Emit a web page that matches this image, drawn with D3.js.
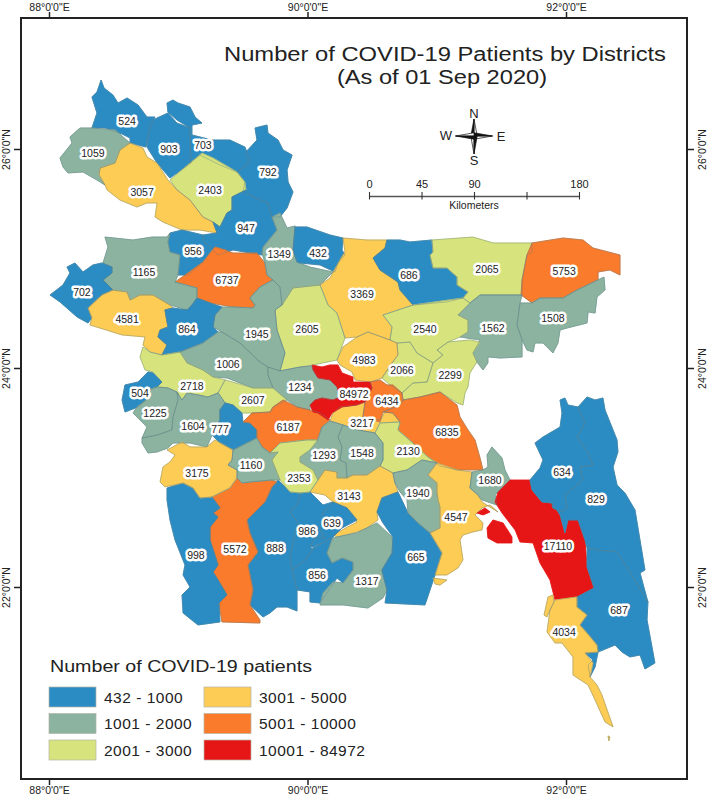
<!DOCTYPE html>
<html><head><meta charset="utf-8">
<script src="https://cdn.jsdelivr.net/npm/d3@7"></script>
<style>html,body{margin:0;padding:0;background:#fff}svg{display:block}text{font-family:"Liberation Sans",Arial,sans-serif;fill:#222}</style>
</head><body><svg id="chart" width="708" height="797"></svg>
<script>
// ---- Map data: district rings as [longitude, latitude] ----
const r524=[[88.332,26.475],[88.371,26.521],[88.403,26.630],[88.426,26.557],[88.495,26.493],[88.534,26.420],[88.604,26.466],[88.689,26.402],[88.758,26.292],[88.820,26.292],[88.781,26.192],[88.750,26.018],[88.627,26.055],[88.627,26.100],[88.565,26.137],[88.433,26.192],[88.332,26.192],[88.371,26.329]];
const r1059=[[88.162,26.110],[88.240,26.192],[88.332,26.192],[88.511,26.174],[88.627,26.055],[88.549,25.991],[88.511,25.872],[88.395,25.826],[88.387,25.763],[88.433,25.671],[88.371,25.717],[88.263,25.790],[88.147,25.781],[88.108,25.836],[88.085,25.918],[88.147,26.009],[88.178,26.055]];
const r903=[[88.781,26.247],[88.836,26.283],[88.920,26.329],[88.990,26.237],[89.091,26.192],[89.099,25.872],[88.936,25.735],[88.836,25.872],[88.758,26.018]];
const r703=[[88.913,26.420],[88.959,26.447],[88.998,26.420],[89.091,26.384],[89.130,26.292],[89.184,26.237],[89.106,26.219],[89.106,26.128],[89.261,26.082],[89.400,26.082],[89.516,26.018],[89.555,25.900],[89.540,25.854],[89.455,25.790],[89.323,25.854],[89.168,25.945],[89.091,25.872],[89.091,26.192],[88.990,26.265],[88.920,26.338]];
const r792=[[89.594,26.192],[89.687,26.219],[89.694,26.146],[89.772,26.082],[89.811,25.991],[89.881,25.945],[89.842,25.808],[89.850,25.699],[89.888,25.607],[89.842,25.461],[89.787,25.379],[89.725,25.379],[89.694,25.507],[89.578,25.562],[89.501,25.607],[89.516,25.699],[89.455,25.790],[89.540,25.872],[89.516,25.963],[89.609,26.082]];
const r2403=[[89.184,25.963],[89.269,25.918],[89.455,25.790],[89.516,25.699],[89.524,25.626],[89.416,25.562],[89.416,25.443],[89.377,25.416],[89.323,25.288],[89.269,25.333],[89.191,25.379],[89.091,25.534],[88.990,25.626],[88.936,25.717],[89.091,25.872]];
const r3057=[[88.627,26.055],[88.727,26.009],[88.758,25.927],[88.836,25.872],[88.920,25.717],[88.990,25.626],[89.091,25.534],[89.191,25.379],[89.269,25.333],[89.300,25.233],[89.168,25.260],[89.029,25.260],[88.882,25.333],[88.820,25.379],[88.836,25.507],[88.758,25.507],[88.681,25.470],[88.549,25.534],[88.449,25.626],[88.433,25.671],[88.387,25.763],[88.395,25.826],[88.511,25.872],[88.549,25.991]];
const r947=[[89.524,25.626],[89.578,25.562],[89.694,25.507],[89.725,25.379],[89.764,25.260],[89.656,25.105],[89.648,25.032],[89.424,25.078],[89.308,25.032],[89.207,25.142],[89.191,25.215],[89.300,25.233],[89.269,25.333],[89.323,25.288],[89.377,25.416],[89.416,25.443],[89.416,25.562]];
const r956=[[88.936,25.233],[89.029,25.260],[89.191,25.215],[89.207,25.142],[89.269,25.096],[89.191,24.968],[89.075,24.849],[88.998,24.849],[89.014,25.032],[88.936,25.059],[88.920,25.151]];
const r6737=[[89.284,25.105],[89.362,25.078],[89.424,25.050],[89.609,25.050],[89.671,24.959],[89.687,24.849],[89.733,24.804],[89.632,24.740],[89.555,24.639],[89.594,24.575],[89.578,24.548],[89.424,24.557],[89.246,24.594],[89.145,24.639],[89.145,24.731],[88.975,24.785],[89.075,24.868],[89.191,24.968]];
const r1349=[[89.725,25.379],[89.787,25.416],[89.842,25.279],[89.904,25.297],[89.888,25.078],[89.919,24.968],[90.019,24.922],[90.197,24.877],[90.097,24.758],[89.888,24.731],[89.803,24.575],[89.787,24.740],[89.733,24.804],[89.687,24.849],[89.671,24.959],[89.648,25.050],[89.656,25.105],[89.764,25.260]];
const r432=[[89.904,25.288],[89.996,25.288],[90.174,25.215],[90.275,25.187],[90.267,25.078],[90.290,25.032],[90.236,24.959],[90.213,24.877],[90.097,24.941],[89.942,24.959],[89.919,24.968],[89.888,25.078]];
const r3369=[[90.275,25.187],[90.460,25.169],[90.615,25.169],[90.600,25.096],[90.507,25.005],[90.561,24.895],[90.700,24.785],[90.716,24.712],[90.816,24.575],[90.584,24.484],[90.654,24.375],[90.638,24.256],[90.468,24.329],[90.383,24.283],[90.290,24.274],[90.228,24.502],[90.159,24.575],[90.097,24.758],[90.174,24.822],[90.251,24.986],[90.290,25.059]];
const r686=[[90.615,25.169],[90.716,25.169],[90.793,25.151],[90.963,25.169],[90.971,25.059],[90.948,25.032],[90.971,24.913],[91.079,24.913],[91.157,24.831],[91.157,24.758],[91.242,24.694],[91.203,24.639],[91.079,24.603],[90.816,24.575],[90.716,24.712],[90.700,24.785],[90.561,24.895],[90.507,25.005],[90.600,25.096]];
const r2065=[[90.963,25.169],[91.280,25.196],[91.435,25.142],[91.590,25.142],[91.737,25.142],[91.737,25.059],[91.698,25.032],[91.660,24.804],[91.660,24.667],[91.335,24.667],[91.257,24.594],[91.203,24.639],[91.242,24.694],[91.157,24.758],[91.157,24.831],[91.079,24.913],[90.971,24.913],[90.948,25.032],[90.971,25.059]];
const r5753=[[91.737,25.142],[91.977,25.187],[92.132,25.169],[92.209,25.096],[92.418,25.032],[92.418,24.849],[92.340,24.895],[92.248,24.877],[92.248,24.804],[92.085,24.712],[91.977,24.639],[91.799,24.639],[91.737,24.594],[91.652,24.667],[91.660,24.804],[91.698,25.032]];
const r1508=[[92.248,24.804],[92.294,24.831],[92.302,24.712],[92.240,24.649],[92.225,24.502],[92.171,24.512],[92.163,24.411],[92.008,24.365],[91.954,24.347],[91.938,24.228],[91.899,24.137],[91.822,24.228],[91.760,24.228],[91.745,24.146],[91.698,24.164],[91.660,24.256],[91.621,24.393],[91.644,24.594],[91.737,24.594],[91.799,24.639],[91.977,24.639],[92.085,24.712]];
const r1562=[[91.335,24.667],[91.660,24.667],[91.644,24.594],[91.621,24.393],[91.660,24.256],[91.660,24.101],[91.489,24.091],[91.396,24.101],[91.396,24.046],[91.358,23.982],[91.311,24.055],[91.280,24.137],[91.335,24.256],[91.180,24.283],[91.242,24.329],[91.242,24.438],[91.164,24.484],[91.257,24.594]];
const r2540=[[90.816,24.575],[91.203,24.639],[91.257,24.594],[91.164,24.484],[91.242,24.438],[91.242,24.329],[91.180,24.283],[91.087,24.237],[91.002,24.164],[91.048,24.119],[90.971,24.046],[90.847,24.137],[90.793,24.237],[90.692,24.228],[90.638,24.256],[90.654,24.375],[90.584,24.484]];
const r2299=[[91.087,24.237],[91.257,24.256],[91.335,24.237],[91.280,24.137],[91.311,24.055],[91.257,23.955],[91.242,23.827],[91.219,23.772],[91.203,23.662],[91.157,23.681],[91.025,23.781],[90.870,23.735],[90.739,23.708],[90.731,23.772],[90.816,23.863],[90.925,23.872],[90.971,24.046],[91.048,24.119],[91.002,24.164]];
const r2066=[[90.692,24.228],[90.793,24.237],[90.847,24.137],[90.971,24.046],[90.925,23.872],[90.816,23.863],[90.731,23.772],[90.638,23.845],[90.576,23.909],[90.654,24.046],[90.700,24.119]];
const r4983=[[90.468,24.329],[90.638,24.256],[90.692,24.228],[90.700,24.119],[90.654,24.046],[90.576,23.909],[90.484,23.872],[90.368,23.891],[90.344,23.964],[90.251,24.028],[90.228,24.073],[90.275,24.192],[90.383,24.283]];
const r2605=[[89.803,24.575],[89.888,24.731],[90.097,24.758],[90.159,24.575],[90.228,24.502],[90.290,24.274],[90.228,24.073],[90.043,24.028],[89.942,24.009],[89.787,23.973],[89.826,24.137],[89.764,24.347],[89.749,24.530]];
const r1945=[[89.555,24.639],[89.632,24.740],[89.733,24.804],[89.787,24.740],[89.803,24.575],[89.749,24.530],[89.764,24.347],[89.826,24.137],[89.787,23.973],[89.694,24.009],[89.632,24.055],[89.478,24.228],[89.338,24.329],[89.269,24.375],[89.284,24.484],[89.338,24.557],[89.424,24.557],[89.578,24.548],[89.594,24.575]];
const r1165=[[88.433,25.196],[88.650,25.169],[88.797,25.196],[88.913,25.196],[88.936,25.233],[88.920,25.151],[88.936,25.059],[89.014,25.032],[88.998,24.849],[88.975,24.785],[89.145,24.731],[89.145,24.639],[89.106,24.575],[89.068,24.530],[88.936,24.575],[88.804,24.667],[88.704,24.667],[88.627,24.621],[88.604,24.694],[88.495,24.712],[88.418,24.804],[88.487,24.868],[88.487,24.922],[88.418,24.959],[88.456,25.105]];
const r702=[[88.139,24.922],[88.201,24.959],[88.263,24.877],[88.340,24.941],[88.410,24.959],[88.487,24.922],[88.487,24.868],[88.418,24.804],[88.495,24.712],[88.410,24.667],[88.302,24.548],[88.332,24.457],[88.302,24.411],[88.217,24.466],[88.085,24.603],[88.008,24.667],[88.108,24.758],[88.162,24.868]];
const r4581=[[88.495,24.712],[88.604,24.694],[88.627,24.621],[88.704,24.667],[88.804,24.667],[88.936,24.575],[88.959,24.548],[88.897,24.530],[88.920,24.375],[88.859,24.347],[88.843,24.283],[88.913,24.210],[88.874,24.119],[88.781,24.146],[88.727,24.210],[88.743,24.283],[88.565,24.302],[88.317,24.393],[88.332,24.457],[88.302,24.548],[88.410,24.667]];
const r864=[[89.145,24.639],[89.246,24.594],[89.338,24.557],[89.284,24.484],[89.269,24.375],[89.308,24.329],[89.191,24.228],[89.014,24.146],[88.874,24.119],[88.913,24.210],[88.843,24.283],[88.859,24.347],[88.920,24.375],[88.897,24.530],[88.959,24.548],[89.068,24.530],[89.106,24.575]];
const r1006=[[89.308,24.329],[89.338,24.329],[89.478,24.228],[89.632,24.055],[89.694,24.009],[89.694,23.936],[89.733,23.818],[89.578,23.818],[89.377,23.909],[89.269,23.918],[89.191,23.982],[89.068,24.046],[89.014,24.146],[89.191,24.228]];
const r1234=[[89.694,24.009],[89.787,23.973],[89.942,24.009],[90.035,24.018],[90.043,23.982],[90.081,23.909],[90.174,23.891],[90.228,23.827],[90.251,23.735],[90.197,23.708],[90.112,23.726],[90.058,23.708],[90.019,23.662],[90.019,23.617],[89.919,23.644],[89.842,23.708],[89.733,23.818],[89.694,23.936]];
const r2718=[[88.727,24.192],[88.781,24.146],[88.874,24.119],[89.014,24.146],[89.068,24.046],[89.191,23.982],[89.269,23.918],[89.362,23.891],[89.308,23.772],[89.230,23.735],[89.153,23.754],[89.068,23.772],[89.029,23.708],[88.990,23.781],[88.920,23.818],[88.836,23.827],[88.874,23.872],[88.804,23.964],[88.743,23.982],[88.704,24.101]];
const r2607=[[89.362,23.891],[89.578,23.818],[89.733,23.818],[89.842,23.708],[89.733,23.644],[89.710,23.598],[89.570,23.589],[89.493,23.589],[89.424,23.662],[89.362,23.681],[89.323,23.754],[89.308,23.772]];
const r504=[[88.727,23.918],[88.766,23.964],[88.804,23.955],[88.874,23.872],[88.836,23.827],[88.766,23.799],[88.781,23.735],[88.689,23.644],[88.588,23.598],[88.565,23.708],[88.588,23.845],[88.689,23.872]];
const r1225=[[88.836,23.827],[88.920,23.818],[88.990,23.781],[88.998,23.708],[88.959,23.553],[88.951,23.434],[88.836,23.388],[88.766,23.370],[88.720,23.361],[88.758,23.461],[88.650,23.589],[88.681,23.644],[88.781,23.735],[88.766,23.799]];
const r1604=[[88.990,23.781],[89.029,23.708],[89.068,23.772],[89.153,23.754],[89.230,23.735],[89.308,23.772],[89.362,23.681],[89.323,23.617],[89.323,23.525],[89.261,23.388],[89.222,23.279],[89.091,23.315],[88.959,23.315],[88.920,23.269],[88.836,23.233],[88.766,23.224],[88.720,23.315],[88.720,23.361],[88.836,23.388],[88.951,23.434],[88.959,23.553],[88.998,23.708]];
const r777=[[89.362,23.681],[89.424,23.662],[89.493,23.589],[89.501,23.507],[89.555,23.498],[89.609,23.434],[89.609,23.361],[89.424,23.251],[89.323,23.315],[89.261,23.388],[89.323,23.525],[89.323,23.617]];
const r6187=[[89.501,23.507],[89.570,23.589],[89.710,23.598],[89.733,23.644],[89.811,23.708],[89.919,23.644],[90.019,23.617],[90.097,23.589],[90.174,23.525],[90.112,23.461],[90.074,23.343],[89.996,23.343],[89.787,23.315],[89.710,23.224],[89.648,23.279],[89.609,23.361],[89.609,23.434],[89.555,23.498]];
const r3217=[[90.251,23.644],[90.383,23.662],[90.445,23.690],[90.429,23.553],[90.561,23.525],[90.600,23.598],[90.661,23.589],[90.716,23.507],[90.561,23.498],[90.522,23.407],[90.391,23.434],[90.275,23.480],[90.174,23.516],[90.197,23.589]];
const r6434=[[90.484,23.872],[90.561,23.891],[90.615,23.845],[90.661,23.845],[90.731,23.772],[90.739,23.708],[90.716,23.662],[90.677,23.644],[90.584,23.598],[90.561,23.507],[90.429,23.553],[90.445,23.690],[90.499,23.818]];
const r84972=[[90.035,24.028],[90.112,24.009],[90.174,24.028],[90.236,24.028],[90.267,23.955],[90.352,23.918],[90.352,23.872],[90.484,23.872],[90.499,23.818],[90.460,23.708],[90.445,23.690],[90.383,23.662],[90.267,23.644],[90.190,23.589],[90.159,23.525],[90.081,23.589],[90.043,23.598],[90.019,23.662],[90.058,23.708],[90.112,23.726],[90.197,23.708],[90.251,23.735],[90.228,23.827],[90.174,23.891],[90.081,23.909],[90.043,23.982]];
const r6835=[[90.739,23.708],[90.870,23.735],[91.025,23.781],[91.157,23.662],[91.180,23.553],[91.242,23.434],[91.296,23.343],[91.335,23.178],[91.358,23.069],[91.157,23.069],[91.025,23.105],[90.932,23.187],[90.816,23.315],[90.716,23.416],[90.700,23.434],[90.716,23.507],[90.661,23.589],[90.584,23.598],[90.677,23.644],[90.716,23.662]];
const r2130=[[90.561,23.498],[90.716,23.507],[90.700,23.434],[90.816,23.315],[90.932,23.187],[91.002,23.133],[90.886,23.160],[90.770,23.069],[90.661,23.041],[90.561,23.105],[90.584,23.160],[90.584,23.315],[90.522,23.407]];
const r1293=[[90.174,23.516],[90.275,23.480],[90.236,23.370],[90.267,23.279],[90.251,23.160],[90.298,23.133],[90.306,22.996],[90.228,22.996],[90.228,23.050],[90.135,23.069],[90.081,22.977],[90.043,23.069],[89.942,23.142],[89.942,23.187],[90.019,23.251],[90.081,23.343],[90.112,23.461]];
const r1548=[[90.275,23.480],[90.391,23.434],[90.522,23.407],[90.584,23.315],[90.584,23.160],[90.561,23.105],[90.460,23.023],[90.352,23.023],[90.306,22.996],[90.298,23.133],[90.251,23.160],[90.267,23.279],[90.236,23.370]];
const r3143=[[90.019,22.868],[90.081,22.977],[90.135,23.069],[90.228,23.050],[90.228,22.996],[90.306,22.996],[90.352,23.023],[90.460,23.023],[90.561,23.105],[90.661,23.041],[90.677,22.950],[90.700,22.868],[90.576,22.813],[90.538,22.685],[90.545,22.612],[90.460,22.539],[90.383,22.503],[90.228,22.457],[90.197,22.475],[90.383,22.594],[90.306,22.722],[90.197,22.776],[90.135,22.840]];
const r639=[[90.197,22.776],[90.306,22.722],[90.383,22.612],[90.267,22.539],[90.190,22.448],[90.043,22.365],[90.019,22.365],[90.058,22.448],[90.135,22.448],[90.097,22.521],[90.120,22.676]];
const r986=[[89.942,22.859],[90.019,22.868],[90.120,22.749],[90.197,22.776],[90.120,22.676],[90.097,22.521],[90.135,22.448],[90.058,22.448],[90.019,22.365],[90.043,22.338],[89.981,22.247],[89.880,22.155],[89.865,22.274],[89.904,22.494],[89.927,22.585],[89.865,22.685],[89.927,22.767]];
const r856=[[90.190,22.448],[90.151,22.311],[90.190,22.219],[90.267,22.265],[90.352,22.228],[90.352,22.155],[90.275,22.037],[90.228,22.082],[90.097,21.854],[90.019,21.863],[90.019,21.955],[89.919,21.973],[89.880,22.155],[89.981,22.247],[90.043,22.356]];
const r1317=[[90.383,22.494],[90.460,22.539],[90.538,22.585],[90.654,22.457],[90.661,22.311],[90.576,22.155],[90.615,21.973],[90.584,21.900],[90.468,21.808],[90.275,21.836],[90.097,21.836],[90.120,21.945],[90.197,22.046],[90.275,22.037],[90.352,22.155],[90.352,22.228],[90.267,22.265],[90.190,22.219],[90.151,22.311],[90.197,22.448]];
const r665=[[90.700,22.868],[90.778,22.676],[90.847,22.594],[90.948,22.494],[91.041,22.311],[90.987,22.110],[90.909,21.836],[90.600,21.854],[90.615,21.973],[90.576,22.155],[90.654,22.311],[90.661,22.457],[90.584,22.585],[90.538,22.685],[90.576,22.813]];
const r1940=[[90.661,23.041],[90.770,23.069],[90.886,23.160],[91.002,23.133],[90.932,23.023],[91.002,22.950],[91.002,22.859],[91.010,22.795],[91.025,22.731],[91.025,22.539],[90.948,22.494],[90.847,22.594],[90.778,22.676],[90.770,22.795],[90.716,22.868],[90.677,22.950]];
const r4547=[[91.002,23.133],[91.157,23.069],[91.273,23.050],[91.257,22.904],[91.319,22.840],[91.350,22.776],[91.474,22.685],[91.412,22.749],[91.350,22.722],[91.296,22.658],[91.358,22.585],[91.350,22.521],[91.280,22.503],[91.203,22.475],[91.180,22.429],[91.203,22.247],[91.164,22.174],[91.079,22.110],[90.987,22.110],[91.041,22.311],[90.948,22.494],[91.025,22.539],[91.025,22.731],[91.010,22.795],[91.002,22.859],[91.002,22.950],[90.932,23.023]];
const r4547b=[[90.971,22.082],[91.079,22.064],[91.025,22.018],[90.987,22.027]];
const r1680=[[91.427,23.279],[91.505,23.178],[91.528,23.069],[91.567,22.977],[91.451,22.840],[91.466,22.749],[91.350,22.795],[91.319,22.840],[91.257,22.904],[91.273,23.050],[91.358,23.069],[91.396,23.096],[91.389,23.206]];
const r17110=[[91.567,22.977],[91.721,22.977],[91.737,22.886],[91.814,22.776],[91.892,22.767],[91.954,22.658],[91.992,22.494],[92.015,22.612],[92.093,22.612],[92.147,22.429],[92.163,22.183],[92.217,21.991],[92.085,21.909],[91.915,21.881],[91.876,22.064],[91.799,22.219],[91.745,22.402],[91.644,22.411],[91.606,22.521],[91.505,22.676],[91.451,22.776],[91.474,22.868]];
const r17110b=[[91.435,22.612],[91.513,22.585],[91.582,22.457],[91.582,22.402],[91.466,22.402],[91.396,22.448],[91.389,22.539]];
const r17110c=[[91.311,22.676],[91.373,22.722],[91.412,22.685],[91.358,22.658]];
const r634=[[91.954,23.708],[91.992,23.726],[92.015,23.662],[92.093,23.644],[92.147,23.498],[92.085,23.370],[92.171,23.224],[92.209,23.114],[92.108,23.096],[92.132,22.977],[91.992,22.840],[92.008,22.722],[91.969,22.685],[91.899,22.722],[91.892,22.767],[91.814,22.776],[91.737,22.886],[91.721,22.977],[91.799,23.087],[91.822,23.160],[91.760,23.315],[91.822,23.370],[91.954,23.461],[91.969,23.589]];
const r829=[[92.093,23.644],[92.163,23.735],[92.225,23.708],[92.286,23.726],[92.302,23.617],[92.395,23.343],[92.402,23.233],[92.364,23.096],[92.395,22.932],[92.456,22.859],[92.534,22.703],[92.611,22.155],[92.573,22.128],[92.634,21.863],[92.518,22.092],[92.395,22.320],[92.248,22.338],[92.163,22.356],[92.147,22.429],[92.093,22.612],[92.015,22.612],[91.992,22.494],[91.954,22.658],[91.892,22.767],[91.899,22.722],[91.969,22.685],[92.008,22.722],[91.992,22.840],[92.132,22.977],[92.108,23.096],[92.209,23.114],[92.171,23.224],[92.085,23.370],[92.147,23.498]];
const r687=[[92.163,22.356],[92.248,22.338],[92.395,22.320],[92.518,22.092],[92.634,21.863],[92.627,21.699],[92.688,21.306],[92.611,21.251],[92.573,21.379],[92.495,21.361],[92.433,21.406],[92.379,21.470],[92.248,21.406],[92.240,21.470],[92.163,21.580],[92.108,21.653],[92.163,21.744],[92.085,21.817],[92.085,21.909],[92.217,21.991],[92.163,22.183]];
const r687b=[[92.147,21.397],[92.248,21.406],[92.225,21.270],[92.186,21.178],[92.171,21.288],[92.209,21.333]];
const r4034=[[91.915,21.881],[92.085,21.909],[92.085,21.817],[92.163,21.744],[92.108,21.653],[92.163,21.580],[92.240,21.470],[92.248,21.406],[92.147,21.397],[92.209,21.306],[92.186,21.178],[92.240,21.105],[92.278,21.014],[92.364,20.722],[92.302,20.767],[92.225,20.968],[92.171,21.105],[92.054,21.196],[92.054,21.361],[91.969,21.489],[91.915,21.489],[91.853,21.589],[91.876,21.790]];
const r4034b=[[91.861,21.909],[91.899,21.927],[91.907,21.863],[91.876,21.790],[91.853,21.726],[91.830,21.744]];
const r4034c=[[92.325,20.640],[92.340,20.630],[92.332,20.595]];
const r888=[[89.772,22.977],[89.865,22.868],[89.942,22.859],[89.927,22.767],[89.865,22.685],[89.927,22.585],[89.904,22.494],[89.865,22.274],[89.880,22.155],[89.919,21.973],[89.919,21.781],[89.842,21.817],[89.764,21.817],[89.710,21.763],[89.656,21.726],[89.555,21.836],[89.578,21.973],[89.540,22.201],[89.617,22.320],[89.555,22.494],[89.532,22.612],[89.671,22.776],[89.725,22.914]];
const r5572=[[89.455,22.996],[89.493,22.950],[89.555,22.959],[89.725,22.977],[89.764,22.959],[89.725,22.914],[89.671,22.776],[89.532,22.612],[89.555,22.494],[89.617,22.320],[89.540,22.201],[89.578,21.973],[89.555,21.836],[89.632,21.699],[89.632,21.671],[89.338,21.681],[89.315,21.854],[89.377,21.927],[89.308,22.064],[89.269,22.137],[89.308,22.201],[89.246,22.429],[89.246,22.548],[89.308,22.639],[89.269,22.676],[89.323,22.722],[89.261,22.822],[89.400,22.904]];
const r998=[[88.913,22.904],[89.037,22.950],[89.114,22.904],[89.168,22.813],[89.261,22.822],[89.323,22.722],[89.269,22.676],[89.308,22.639],[89.246,22.548],[89.246,22.429],[89.308,22.201],[89.269,22.137],[89.308,22.064],[89.377,21.927],[89.315,21.854],[89.323,21.681],[89.153,21.653],[89.037,21.763],[89.029,21.927],[89.091,22.000],[89.037,22.110],[89.052,22.201],[88.975,22.429],[88.936,22.612],[88.913,22.795]];
const r3175=[[88.913,23.251],[89.029,23.324],[89.091,23.279],[89.222,23.279],[89.284,23.343],[89.424,23.251],[89.416,23.160],[89.385,23.114],[89.455,23.069],[89.455,22.996],[89.400,22.904],[89.261,22.822],[89.168,22.813],[89.114,22.904],[89.037,22.950],[88.897,22.914],[88.859,22.959],[88.882,23.096],[88.936,23.142],[88.975,23.206]];
const r1160=[[89.424,23.251],[89.609,23.361],[89.648,23.279],[89.710,23.224],[89.772,23.233],[89.725,23.160],[89.787,22.977],[89.725,22.977],[89.555,22.959],[89.493,22.950],[89.455,22.996],[89.455,23.069],[89.385,23.114],[89.416,23.160]];
const r2353=[[89.710,23.224],[89.787,23.315],[89.996,23.343],[90.081,23.343],[90.019,23.251],[89.942,23.187],[89.942,23.142],[90.043,23.069],[90.081,22.977],[90.019,22.868],[89.942,22.859],[89.865,22.868],[89.787,22.977],[89.725,23.160],[89.772,23.233]];

const patients=[524,1059,903,703,792,2403,3057,947,956,6737,1349,432,3369,686,2065,5753,1508,1562,2540,2299,2066,4983,2605,1945,1165,702,4581,864,1006,1234,2718,2607,504,1225,1604,777,6187,3217,6434,84972,6835,2130,1293,1548,3143,639,986,856,1317,665,1940,4547,1680,17110,634,829,687,4034,888,5572,998,3175,1160,2353];
const rings=[[r524],[r1059],[r903],[r703],[r792],[r2403],[r3057],[r947],[r956],[r6737],[r1349],[r432],[r3369],[r686],[r2065],[r5753],[r1508],[r1562],[r2540],[r2299],[r2066],[r4983],[r2605],[r1945],[r1165],[r702],[r4581],[r864],[r1006],[r1234],[r2718],[r2607],[r504],[r1225],[r1604],[r777],[r6187],[r3217],[r6434],[r84972],[r6835],[r2130],[r1293],[r1548],[r3143],[r639],[r986],[r856],[r1317],[r665],[r1940],[r4547,r4547b],[r1680],[r17110,r17110b,r17110c],[r634],[r829],[r687,r687b],[r4034,r4034b,r4034c],[r888],[r5572],[r998],[r3175],[r1160],[r2353]];
const labelLon=[88.604,88.340,88.928,89.191,89.694,89.246,88.720,89.524,89.114,89.377,89.780,90.081,90.422,90.785,91.389,91.985,91.899,91.435,90.909,91.103,90.731,90.437,89.996,89.609,88.735,88.255,88.604,89.068,89.385,89.942,89.106,89.578,88.704,88.820,89.114,89.323,89.850,90.422,90.615,90.360,91.079,90.778,90.128,90.422,90.321,90.190,89.996,90.074,90.460,90.839,90.855,91.149,91.412,91.938,91.969,92.232,92.410,91.985,89.749,89.439,89.137,89.145,89.563,89.934];
const labelLat=[26.256,25.963,26.000,26.037,25.790,25.626,25.607,25.279,25.069,24.804,25.041,25.050,24.676,24.849,24.904,24.886,24.457,24.365,24.356,23.936,23.982,24.073,24.356,24.311,24.877,24.694,24.448,24.356,24.037,23.827,23.836,23.708,23.772,23.589,23.471,23.443,23.461,23.498,23.699,23.763,23.416,23.242,23.206,23.224,22.831,22.585,22.512,22.110,22.055,22.274,22.859,22.640,22.977,22.375,23.050,22.804,21.790,21.589,22.356,22.347,22.292,23.041,23.114,22.996];

const breaks=[1001,2001,3001,5001,10001];
const colours=["#2b8cc4","#8bb3a0","#d7e37c","#fdcc54","#f97b2b","#e71616"];
const classLabels=["432 - 1000","1001 - 2000","2001 - 3000","3001 - 5000","5001 - 10000","10001 - 84972"];
const lonTicks=[88,90,92];
const latTicks=[26,24,22];
const scaleBarKm=[0,45,90,135,180];
const scaleBarLabels=[0,45,90,180];
const titleLines=["Number of COVID-19 Patients by Districts","(As of 01 Sep 2020)"];

// ---- Scales ----
const W=708,H=797,frame={l:21,t:18,r:687,b:779};
const x=d3.scaleLinear().domain([88,92]).range([49,566]);
const y=d3.scaleLinear().domain([26,22]).range([149,587]);
const colour=d3.scaleThreshold().domain(breaks).range(colours);
const svg=d3.select("#chart");

// ---- Districts ----
const line=d3.line().x(d=>x(d[0])).y(d=>y(d[1])).curve(d3.curveLinearClosed);
svg.append("g").selectAll("path").data(patients).join("path")
  .attr("d",(v,i)=>rings[i].map(r=>line(r)).join(""))
  .attr("fill",v=>colour(v)).attr("stroke",v=>colour(v)).attr("stroke-width",.9).attr("stroke-linejoin","round");
// district borders sit above every fill in a soft grey, as in the reference
svg.append("g").selectAll("path").data(patients).join("path")
  .attr("d",(v,i)=>rings[i].map(r=>line(r)).join(""))
  .attr("fill","none").attr("stroke","#5f7f86").attr("stroke-opacity",v=>v>10000?0:.55)
  .attr("stroke-width",.7).attr("stroke-linejoin","round");
svg.append("g").selectAll("text").data(patients).join("text")
  .attr("x",(v,i)=>x(labelLon[i])).attr("y",(v,i)=>y(labelLat[i])).attr("dy","0.36em")
  .attr("text-anchor","middle").attr("font-size",10.5)
  .attr("stroke","#fff").attr("stroke-width",5).attr("stroke-linejoin","round").attr("paint-order","stroke")
  .text(v=>v);

// ---- Frame and graticule ticks ----
svg.append("rect").attr("x",frame.l).attr("y",frame.t).attr("width",frame.r-frame.l).attr("height",frame.b-frame.t)
  .attr("fill","none").attr("stroke","#222").attr("stroke-width",2);
const lonFmt=d=>`${d}°0'0"E`, latFmt=d=>`${d}°0'0"N`;
function finish(g){g.select(".domain").remove();g.selectAll("line").attr("stroke","#222").attr("stroke-width",1.5);g.selectAll("text").attr("font-size",10.5).attr("fill","#222");g.attr("font-family",null)}
svg.append("g").attr("transform",`translate(0,${frame.t})`).call(d3.axisTop(x).tickValues(lonTicks).tickFormat(lonFmt).tickSize(6).tickPadding(1)).call(finish);
svg.append("g").attr("transform",`translate(0,${frame.b})`).call(d3.axisBottom(x).tickValues(lonTicks).tickFormat(lonFmt).tickSize(6).tickPadding(2)).call(finish);
svg.append("g").attr("transform",`translate(${frame.l},0)`).call(d3.axisLeft(y).tickValues(latTicks).tickFormat(latFmt).tickSize(7)).call(finish)
  .selectAll("text").attr("transform","rotate(-90)").attr("x",0).attr("y",-11).attr("dy",0).attr("text-anchor","middle");
svg.append("g").attr("transform",`translate(${frame.r},0)`).call(d3.axisRight(y).tickValues(latTicks).tickFormat(latFmt).tickSize(7)).call(finish)
  .selectAll("text").attr("transform","rotate(-90)").attr("x",0).attr("y",19).attr("dy",0).attr("text-anchor","middle");

// ---- Title ----
svg.append("text").attr("x",445).attr("y",61).attr("text-anchor","middle").attr("font-size",20)
  .attr("textLength",442).attr("lengthAdjust","spacingAndGlyphs").text(titleLines[0]);
svg.append("text").attr("x",442).attr("y",84).attr("text-anchor","middle").attr("font-size",20)
  .attr("textLength",210).attr("lengthAdjust","spacingAndGlyphs").text(titleLines[1]);

// ---- North arrow ----
const na=svg.append("g").attr("transform","translate(474,136)");
const arms=[[0,-17],[18.5,0],[0,18],[-18.5,0]];
const radial=d3.line();
arms.forEach((t,i)=>{
  const n=[-t[1]/Math.hypot(...t)*3.2,t[0]/Math.hypot(...t)*3.2];
  na.append("path").attr("d",radial([[0,0],t,n])+"Z").attr("fill","#fff").attr("stroke","#111").attr("stroke-width",.7);
  na.append("path").attr("d",radial([[0,0],t,[-n[0],-n[1]]])+"Z").attr("fill","#111").attr("stroke","#111").attr("stroke-width",.7);
});
[["N",0,-18],["E",27,5],["S",0,29],["W",-28,4]].forEach(([s,dx,dy])=>
  na.append("text").attr("x",dx).attr("y",dy).attr("text-anchor","middle").attr("font-size",13).text(s));

// ---- Scale bar ----
const km=d3.scaleLinear().domain([0,180]).range([369,579]);
const bar=svg.append("g").attr("transform","translate(0,196)");
bar.call(d3.axisTop(km).tickValues(scaleBarKm).tickFormat(d=>scaleBarLabels.includes(d)?d:"").tickSize(0).tickPadding(8));
bar.select(".domain").attr("stroke","#555").attr("stroke-width",1.4);
bar.selectAll(".tick line").attr("y1",-4).attr("y2",3.5).attr("stroke","#333").attr("stroke-width",1.1);
bar.selectAll("text").attr("font-size",11).attr("fill","#222");
svg.append("text").attr("x",km(90)).attr("y",209).attr("text-anchor","middle").attr("font-size",10.5).text("Kilometers");

// ---- Legend ----
svg.append("text").attr("x",50).attr("y",672).attr("font-size",16).attr("textLength",262).attr("lengthAdjust","spacingAndGlyphs").text("Number of COVID-19 patients");
const lg=svg.append("g").selectAll("g").data(classLabels).join("g")
  .attr("transform",(d,i)=>`translate(${i<3?49:204},${687+(i%3)*26.5})`);
lg.append("rect").attr("width",47).attr("height",20).attr("fill",(d,i)=>colours[i]).attr("stroke","#b5b5a5").attr("stroke-width",.7);
lg.append("text").attr("x",55).attr("y",15.5).attr("font-size",15.5).attr("letter-spacing",.5).text(d=>d);
</script></body></html>
